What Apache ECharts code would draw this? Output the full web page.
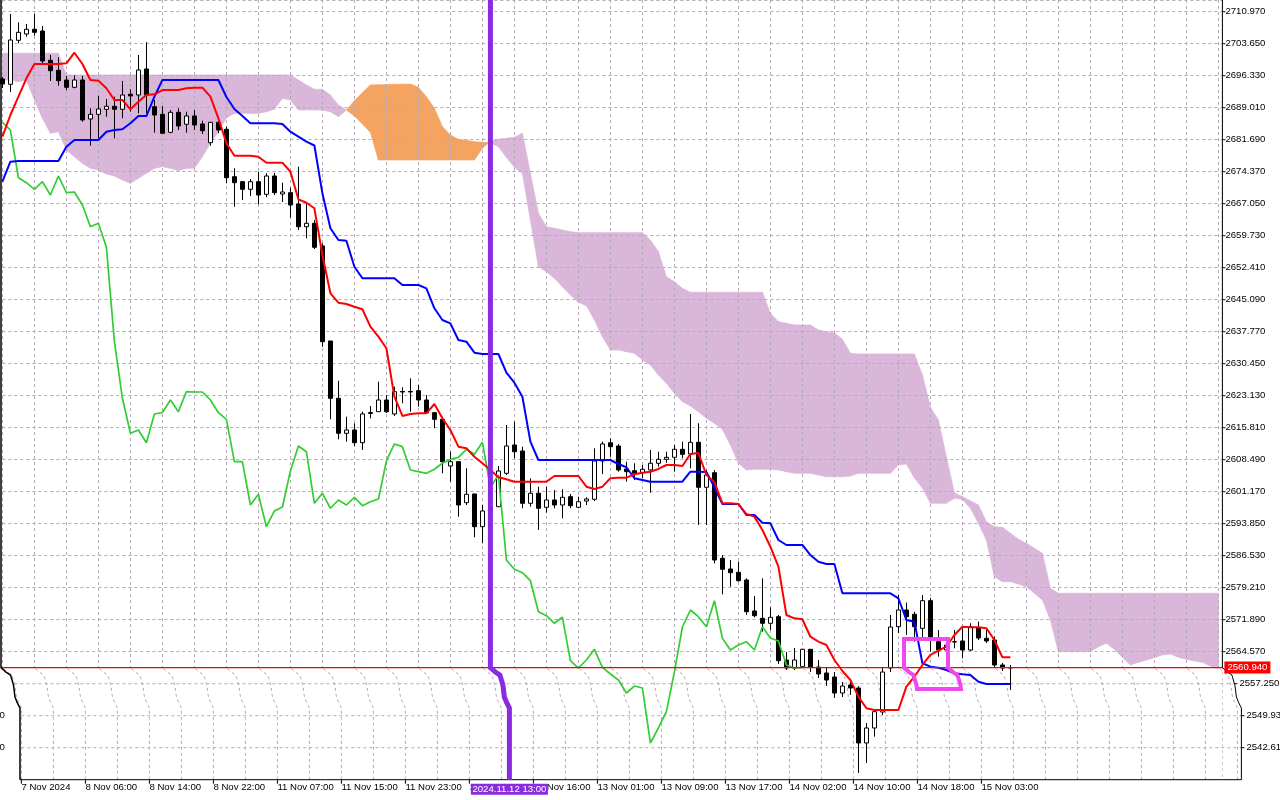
<!DOCTYPE html>
<html><head><meta charset="utf-8">
<script src="https://cdn.jsdelivr.net/npm/echarts@6/dist/echarts.min.js"></script>
<style>html,body{margin:0;padding:0;background:#fff;overflow:hidden}#c{width:1280px;height:800px}</style>
</head><body><div id="c"></div>
<script>
// ---------------- DATA (H1 bars, index 0 = 7 Nov 2024 ...) ----------------
const timeTickIdx = [0,8,16,24,32,40,48,56,64,72,80,88,96,104,112,120];
const timeTickText = ['7 Nov 2024','8 Nov 06:00','8 Nov 14:00','8 Nov 22:00','11 Nov 07:00','11 Nov 15:00','11 Nov 23:00','12 Nov 08:00','12 Nov 16:00','13 Nov 01:00','13 Nov 09:00','13 Nov 17:00','14 Nov 02:00','14 Nov 10:00','14 Nov 18:00','15 Nov 03:00'];
const priceLabels = [2710.97,2703.65,2696.33,2689.01,2681.69,2674.37,2667.05,2659.73,2652.41,2645.09,2637.77,2630.45,2623.13,2615.81,2608.49,2601.17,2593.85,2586.53,2579.21,2571.89,2564.57,2557.25,2549.93,2542.61];

const open = [2695.58,2694.37,2704.43,2705.87,2706.95,2706.56,2699.86,2697.57,2695.35,2693.68,
 2695.35,2686.43,2687.50,2688.65,2689.33,2688.65,2692.08,2691.92,2697.87,2689.24,
 2687.50,2683.39,2687.96,2685.22,2687.12,2685.29,2681.01,2685.67,2684.07,2673.23,
 2672.09,2670.35,2672.09,2669.20,2673.39,2669.27,2669.57,2666.98,2661.79,2662.57,
 2657.38,2635.65,2622.54,2614.53,2615.29,2612.38,2619.06,2619.47,2622.15,2618.95,
 2624.09,2624.09,2624.28,2622.15,2619.24,2617.73,2607.05,2608.04,2598.66,2600.65,
 2593.17,2596.76,2597.74,2605.38,2611.86,2610.48,2598.52,2600.81,2597.60,2599.27,
 2598.13,2600.03,2597.60,2599.04,2599.43,2608.20,2612.38,2611.63,2606.37,2605.98,
 2605.52,2606.14,2607.67,2608.59,2609.04,2610.87,2609.80,2612.47,2602.18,2605.52,
 2585.94,2583.49,2582.73,2580.97,2573.88,2572.21,2571.07,2572.58,2562.67,2560.84,
 2561.14,2565.12,2561.07,2559.70,2558.78,2555.12,2556.95,2556.27,2543.69,2547.12,
 2550.78,2560.84,2570.29,2574.11,2573.13,2569.92,2576.24,2566.86,2564.96,2566.79,
 2567.02,2564.96,2570.00,2567.64,2567.25,2561.53,2560.84];
const close = [2694.43,2704.50,2706.26,2706.95,2706.26,2699.70,2697.48,2695.19,2693.68,2695.35,
 2686.20,2687.50,2688.72,2689.33,2688.65,2691.92,2691.69,2697.64,2691.92,2687.34,
 2683.16,2687.96,2684.83,2687.12,2685.06,2683.75,2685.67,2683.91,2673.00,2671.86,
 2670.35,2672.09,2669.04,2673.39,2669.57,2669.73,2666.76,2661.79,2662.57,2657.08,
 2635.49,2622.54,2614.53,2615.29,2612.38,2618.95,2619.29,2622.15,2619.47,2624.05,
 2623.98,2623.98,2622.15,2619.24,2617.73,2608.04,2608.04,2598.13,2600.58,2593.17,
 2596.76,2597.67,2605.91,2611.63,2610.32,2598.52,2600.81,2597.38,2599.27,2598.13,
 2599.89,2597.97,2598.88,2599.50,2608.20,2612.09,2611.47,2606.14,2605.75,2605.38,
 2606.30,2607.67,2608.59,2609.04,2610.87,2609.73,2612.47,2602.18,2604.99,2585.55,
 2583.42,2582.64,2580.81,2573.72,2572.81,2571.07,2572.44,2562.52,2560.84,2562.67,
 2565.12,2561.00,2559.47,2558.10,2555.12,2556.72,2556.27,2543.69,2547.12,2550.85,
 2559.93,2570.22,2574.11,2572.58,2570.29,2576.24,2567.64,2564.96,2566.10,2566.86,
 2564.96,2570.29,2567.71,2567.02,2561.53,2560.84,2560.94];
const high = [2696.04,2710.45,2708.55,2708.16,2710.45,2707.70,2701.07,2700.54,2696.27,2696.43,
 2696.27,2688.88,2691.76,2691.00,2691.53,2695.12,2693.22,2701.07,2703.97,2690.78,
 2689.40,2688.49,2688.88,2688.10,2688.49,2686.04,2685.74,2685.97,2684.67,2675.15,
 2672.25,2672.70,2674.37,2674.01,2674.08,2671.86,2670.71,2675.52,2666.98,2663.33,
 2657.99,2635.65,2626.56,2618.33,2616.82,2619.47,2620.78,2626.33,2623.29,2625.19,
 2625.05,2627.11,2625.58,2623.29,2619.40,2618.33,2610.32,2608.20,2606.53,2600.65,
 2598.13,2599.96,2607.05,2616.43,2617.19,2611.47,2604.24,2602.32,2602.32,2601.56,
 2601.72,2600.65,2600.03,2599.89,2611.10,2612.61,2613.39,2612.09,2608.04,2607.67,
 2607.28,2610.71,2610.32,2610.32,2611.86,2612.61,2618.95,2616.82,2606.14,2606.14,
 2586.69,2585.55,2585.16,2581.36,2577.31,2581.36,2574.73,2572.97,2564.50,2565.42,
 2565.19,2565.19,2562.67,2560.84,2559.93,2557.64,2558.10,2556.72,2548.27,2551.24,
 2560.84,2572.97,2577.54,2575.78,2573.72,2577.54,2576.85,2569.54,2567.25,2569.54,
 2569.93,2571.07,2571.44,2569.54,2568.00,2561.99,2561.53];
const low = [2693.52,2692.60,2703.74,2705.26,2705.48,2699.24,2695.12,2694.05,2693.06,2693.45,
 2685.81,2680.32,2682.01,2686.95,2682.01,2686.59,2688.10,2687.73,2687.80,2683.29,
 2683.00,2683.16,2683.91,2683.29,2683.91,2683.00,2680.32,2683.16,2671.72,2666.37,
 2667.90,2668.81,2666.92,2668.52,2669.04,2667.44,2663.85,2661.04,2659.14,2656.69,
 2634.34,2617.73,2613.16,2612.61,2611.63,2610.71,2617.96,2619.47,2619.18,2618.49,
 2621.39,2619.47,2620.62,2619.11,2615.67,2605.38,2603.46,2595.45,2598.13,2590.74,
 2589.37,2595.38,2597.67,2604.99,2608.81,2597.38,2597.74,2592.41,2596.37,2597.38,
 2595.09,2597.38,2597.38,2598.13,2599.04,2605.22,2609.18,2605.75,2603.46,2603.85,
 2604.24,2600.94,2606.89,2607.81,2605.75,2608.81,2606.53,2593.55,2593.55,2584.79,
 2577.70,2579.44,2580.58,2572.97,2572.42,2569.15,2569.54,2561.76,2560.38,2560.38,
 2560.84,2559.93,2558.56,2556.72,2553.98,2554.21,2554.67,2536.83,2539.11,2545.13,
 2550.09,2559.93,2568.85,2568.39,2566.86,2567.64,2564.57,2563.43,2563.82,2565.35,
 2563.06,2564.73,2567.25,2566.56,2560.84,2560.16,2555.81];
const tenkan = [2682.38,2687.34,2691.53,2695.74,2699.01,2699.01,2699.01,2699.01,2699.17,2701.59,
 2699.01,2695.35,2695.19,2693.45,2690.77,2690.77,2688.65,2690.39,2691.92,2692.08,
 2693.06,2693.06,2693.06,2693.45,2693.59,2693.59,2691.53,2686.59,2680.87,2678.03,
 2678.03,2678.03,2677.80,2676.43,2676.43,2676.43,2674.37,2668.06,2667.28,2666.00,
 2655.32,2646.56,2644.41,2644.11,2643.49,2642.90,2638.92,2636.63,2633.98,2622.90,
 2618.49,2618.95,2619.11,2619.11,2621.23,2617.96,2615.29,2611.47,2611.10,2609.18,
 2607.67,2606.14,2604.47,2604.01,2603.46,2603.46,2603.46,2603.46,2603.46,2604.76,
 2604.76,2604.76,2604.76,2602.32,2601.79,2602.32,2604.24,2604.38,2604.38,2605.15,
 2605.52,2605.75,2606.37,2607.28,2607.28,2607.05,2609.80,2610.03,2604.99,2603.39,
 2598.52,2598.52,2598.36,2596.07,2595.46,2592.41,2588.59,2584.02,2572.97,2572.21,
 2571.99,2568.00,2566.86,2566.11,2562.67,2560.16,2558.10,2554.28,2551.63,2551.24,
 2551.24,2551.24,2551.24,2556.57,2558.85,2561.53,2563.82,2564.80,2565.72,2568.39,
 2570.29,2570.15,2570.15,2569.93,2567.25,2563.29,2563.29];
const kijun = [2672.09,2676.66,2676.82,2676.82,2676.82,2676.82,2676.82,2676.82,2680.09,2681.62,
 2681.62,2681.62,2681.62,2683.52,2683.91,2684.07,2685.44,2687.11,2687.11,2691.53,
 2695.35,2695.35,2695.35,2695.35,2695.35,2695.35,2695.35,2695.35,2691.46,2688.72,
 2687.11,2685.44,2685.44,2685.44,2685.44,2685.28,2683.52,2682.38,2681.24,2680.37,
 2669.43,2661.43,2658.75,2658.59,2652.64,2649.99,2649.99,2649.99,2649.99,2649.99,
 2648.46,2648.46,2648.46,2647.70,2643.13,2640.45,2639.69,2635.87,2635.49,2632.97,
 2632.67,2632.67,2632.67,2628.40,2626.11,2622.90,2612.61,2608.42,2608.42,2608.42,
 2608.42,2608.42,2608.42,2608.42,2608.42,2608.42,2608.42,2607.51,2606.76,2604.24,
 2603.85,2603.46,2603.46,2603.46,2603.46,2603.46,2605.75,2605.75,2605.68,2602.25,
 2598.36,2598.36,2598.36,2595.84,2595.84,2594.08,2593.94,2590.12,2588.98,2588.98,
 2588.98,2586.69,2585.16,2584.63,2584.63,2577.93,2577.93,2577.93,2577.93,2577.93,
 2577.93,2577.93,2576.79,2571.82,2571.44,2561.92,2561.14,2560.91,2560.39,2559.63,
 2559.40,2559.24,2557.71,2557.18,2557.18,2557.18,2557.18];
// Senkou spans, already displaced 26 bars forward (index 0..152)
const senkouA = [2695.35,2695.35,2694.96,2695.35,2690.77,2686.59,2683.16,2683.52,2679.34,2677.80,
 2676.30,2675.15,2674.76,2673.85,2673.39,2672.47,2671.72,2672.86,2674.01,2675.15,
 2675.52,2675.15,2674.60,2675.15,2675.15,2677.80,2680.87,2683.52,2686.66,2687.73,
 2687.73,2687.73,2687.73,2688.10,2688.65,2691.16,2690.77,2688.49,2688.49,2688.49,
 2688.49,2688.10,2686.95,2688.49,2690.61,2692.44,2694.21,2694.27,2694.27,2694.37,
 2694.37,2694.43,2693.68,2691.53,2688.88,2684.67,2682.77,2681.79,2681.56,2681.24,
 2681.10,2681.01,2680.09,2677.67,2675.38,2674.01,2663.33,2652.64,2651.50,2649.99,
 2648.07,2646.17,2644.50,2643.72,2640.45,2636.63,2633.59,2633.59,2633.20,2632.83,
 2631.30,2630.16,2627.87,2625.97,2623.68,2621.76,2620.78,2619.47,2617.96,2616.82,
 2615.45,2611.86,2607.67,2606.14,2606.30,2606.30,2606.30,2606.14,2605.75,2605.38,
 2605.38,2605.38,2604.99,2604.60,2604.60,2604.60,2604.76,2605.38,2605.38,2605.38,
 2605.38,2605.38,2607.28,2607.51,2604.31,2602.02,2598.52,2598.52,2598.52,2599.66,
 2599.44,2597.38,2593.94,2590.12,2581.73,2580.59,2580.59,2580.06,2579.44,2577.93,
 2576.40,2571.82,2564.57,2564.57,2564.57,2564.57,2564.57,2565.72,2566.50,2565.12,
 2563.29,2561.53,2562.15,2562.67,2563.20,2563.82,2564.05,2563.29,2562.84,2562.45,
 2562.15,2561.30,2560.39];
const senkouB = [2701.46,2701.46,2701.46,2701.46,2701.46,2701.46,2701.46,2701.46,2696.49,2696.49,
 2696.49,2696.49,2696.49,2696.49,2696.49,2696.49,2696.49,2696.49,2696.49,2696.49,
 2696.49,2696.49,2696.49,2696.49,2696.49,2696.49,2696.49,2696.49,2696.49,2696.49,
 2696.49,2696.49,2696.49,2696.49,2696.49,2696.49,2696.49,2695.35,2694.21,2693.22,
 2693.22,2691.92,2689.63,2688.49,2687.11,2685.28,2683.39,2677.05,2677.05,2677.05,
 2677.05,2677.05,2677.05,2677.05,2677.05,2677.05,2677.05,2677.05,2677.05,2677.05,
 2679.73,2681.40,2681.79,2682.01,2682.24,2683.16,2674.01,2664.86,2661.79,2661.43,
 2661.04,2660.65,2660.42,2660.42,2660.42,2660.42,2660.42,2660.42,2660.42,2660.42,
 2660.42,2658.75,2656.07,2650.35,2649.21,2647.70,2646.79,2646.79,2646.79,2646.79,
 2646.79,2646.79,2646.79,2646.79,2646.79,2646.79,2641.98,2640.06,2639.69,2639.31,
 2639.31,2639.31,2638.16,2637.77,2637.54,2636.03,2632.83,2632.67,2632.67,2632.67,
 2632.67,2632.67,2632.67,2632.67,2632.67,2627.87,2620.48,2617.57,2609.11,2600.88,
 2600.03,2599.11,2598.13,2594.31,2593.17,2593.03,2591.66,2590.28,2589.37,2588.23,
 2587.08,2579.08,2577.93,2577.93,2577.93,2577.93,2577.93,2577.93,2577.93,2577.93,
 2577.93,2577.93,2577.93,2577.93,2577.93,2577.93,2577.93,2577.93,2577.93,2577.93,
 2577.93,2577.93,2577.93];
const chikouShift = 26;
const separatorBar = 61;                    // period separator 2024.11.12 13:00
const separatorText = '2024.11.12 13:00';
const boxObject = {t0: 112.7, t1: 118.2, p0: 2567.48, p1: 2556.04}; // user rectangle
// ---------------------------------------------------------------------------

const GRID = '#b6aab6', THISTLE = '#dab6da', ORANGE = '#f4a460', PURPLE = '#8a2be2';
const FONT = "'Liberation Sans', Arial, sans-serif";
const yMin = 2535.29, yMax = 2713.65, yStep = 7.32;
const xMax = 152.5;
const lastPrice = close[close.length - 1];

const candleData = open.map((o, i) => [i, o, close[i], low[i], high[i]]);
const tenkanData = tenkan.map((v, i) => [i, v]);
const kijunData = kijun.map((v, i) => [i, v]);
const chikouData = close.slice(chikouShift).map((v, k) => [k, v]);
const cloudData = senkouA.slice(0, -1).map((a, i) => [i, a, senkouB[i], senkouA[i + 1], senkouB[i + 1]]);

function renderCloud(params, api) {
  const i = api.value(0), a0 = api.value(1), b0 = api.value(2), a1 = api.value(3), b1 = api.value(4);
  const d0 = a0 - b0, d1 = a1 - b1;
  const col = d => d > 0 ? ORANGE : THISTLE;
  const P = (x, y) => api.coord([x, y]);
  const polys = [];
  if (d0 * d1 < 0) {
    const t = d0 / (d0 - d1);
    const xc = i + t, yc = a0 + t * (a1 - a0);
    polys.push({pts: [P(i, a0), P(xc, yc), P(i, b0)], c: col(d0)});
    polys.push({pts: [P(xc, yc), P(i + 1, a1), P(i + 1, b1)], c: col(d1)});
  } else {
    polys.push({pts: [P(i, a0), P(i + 1, a1), P(i + 1, b1), P(i, b0)], c: col(d0 !== 0 ? d0 : d1)});
  }
  return {type: 'group', children: polys.map(p => ({type: 'polygon', shape: {points: p.pts}, style: {fill: p.c, stroke: p.c, lineWidth: 0.7}}))};
}

const chart = echarts.init(document.getElementById('c'), null, {renderer: 'canvas'});
const lblStyle = {fontSize: 9.6, fontFamily: FONT, color: '#000'};
chart.setOption({
  backgroundColor: '#ffffff',
  animation: false,
  grid: {left: 2.4, right: 57.6, top: 0, bottom: 20.3, containLabel: false, outerBoundsMode: 'none'},
  xAxis: {
    type: 'value', min: 0, max: xMax, interval: 4,
    axisLine: {show: false}, axisTick: {show: false},
    splitLine: {show: true, lineStyle: {color: GRID, type: [3, 3], width: 1}},
    axisLabel: {
      show: true, margin: 3, align: 'left', showMaxLabel: false, ...lblStyle,
      formatter: v => { const k = timeTickIdx.indexOf(Math.round(v)); return (k < 0 || Math.abs(v - Math.round(v)) > 1e-6) ? '' : '{p|' + timeTickText[k] + '}'; },
      rich: {p: {padding: [0, 0, 0, 19], ...lblStyle}}
    }
  },
  yAxis: {
    type: 'value', position: 'right', min: yMin, max: yMax, interval: yStep, scale: true,
    axisLine: {show: false}, axisTick: {show: false},
    splitLine: {show: true, lineStyle: {color: GRID, type: [3, 3], width: 1}},
    axisLabel: {
      show: true, margin: 3, showMaxLabel: false, showMinLabel: false, ...lblStyle,
      formatter: v => {
        const lab = priceLabels.find(p => Math.abs(p - v) < 0.005);
        if (lab === undefined) return '';
        const s = lab.toFixed(3);
        return lab > 2560 ? '{a|' + s + '}' : (lab > 2555 ? '{b|' + s + '}' : '{c|' + s + '}');
      },
      rich: {a: {...lblStyle}, b: {padding: [0, 0, 0, 14], ...lblStyle}, c: {padding: [0, 0, 0, 21], ...lblStyle}}
    }
  },
  series: [
    {type: 'custom', name: 'cloud', renderItem: renderCloud, data: cloudData, z: -1, silent: true,
     encode: {x: 0, y: [1, 2, 3, 4]}},
    {type: 'candlestick', name: 'price', data: candleData, barWidth: 5, z: 2, silent: true,
     encode: {x: 0, y: [1, 2, 3, 4]},
     itemStyle: {color: '#ffffff', color0: '#000000', borderColor: '#000000', borderColor0: '#000000', borderWidth: 1}},
    {type: 'line', name: 'chikou', data: chikouData, showSymbol: false, symbol: 'none', z: 3, silent: true,
     lineStyle: {color: '#32cd32', width: 1.7}},
    {type: 'line', name: 'kijun', data: kijunData, showSymbol: false, symbol: 'none', z: 3, silent: true,
     lineStyle: {color: '#0000ff', width: 2}},
    {type: 'line', name: 'tenkan', data: tenkanData, showSymbol: false, symbol: 'none', z: 4, silent: true,
     lineStyle: {color: '#ff0000', width: 2},
     markLine: {silent: true, symbol: 'none', animation: false,
       data: [{yAxis: lastPrice}],
       lineStyle: {color: '#ff0000', type: 'solid', width: 1.2, opacity: 1},
       label: {show: true, position: 'end', distance: 2, formatter: lastPrice.toFixed(3),
         backgroundColor: '#ff0000', color: '#ffffff', padding: [1, 3, 1, 3], fontSize: 9.6, fontFamily: FONT}}}
  ]
});

// ------------- decorations: borders, ticks, separator, warped lower strip -------------
const px = i => chart.convertToPixel({xAxisIndex: 0}, i);
const py = p => chart.convertToPixel({yAxisIndex: 0}, p);
const xL = px(0), xR = px(xMax), yB = py(yMin);
const stripTop = py(lastPrice);
const WARP = [[-1000, 0], [stripTop, 0], [stripTop + 4.5, 5], [stripTop + 7.5, 9.5], [stripTop + 17.5, 12.5], [stripTop + 29.5, 14], [stripTop + 34.5, 16], [stripTop + 40.5, 19], [2000, 19]];
function warp(y) {
  for (let k = 1; k < WARP.length; k++) {
    if (y <= WARP[k][0]) { const [y0, s0] = WARP[k - 1], [y1, s1] = WARP[k]; return s0 + (s1 - s0) * (y - y0) / (y1 - y0); }
  }
  return 19;
}
function warpedV(x, yt, yb) {
  const pts = [[x + warp(yt), yt]];
  WARP.forEach(([y]) => { if (y > yt && y < yb) pts.push([x + warp(y), y]); });
  pts.push([x + warp(yb), yb]);
  return pts;
}
const G = [];
const dash = {stroke: GRID, lineWidth: 1, lineDash: [3, 3], fill: null};
// white strip hiding the regular grid below the price line
G.push({type: 'rect', z: 1, z2: 0, silent: true, shape: {x: 0, y: stripTop + 0.8, width: xR, height: yB - stripTop + 2}, style: {fill: '#ffffff'}});
// shifted vertical grid lines in the strip
for (let v = 0; v <= 152; v += 4) {
  G.push({type: 'polyline', z: 1, z2: 1, silent: true, shape: {points: warpedV(px(v), stripTop + 1, yB)}, style: dash});
}
// horizontal grid lines in the strip
priceLabels.filter(p => py(p) > stripTop + 1).forEach(p => {
  const y = py(p), s = warp(y);
  G.push({type: 'line', z: 1, z2: 1, silent: true, shape: {x1: xL + s, y1: y, x2: xR + s, y2: y}, style: dash});
});
// current price line (kept above the strip)
G.push({type: 'line', z: 4, silent: true, shape: {x1: 1, y1: stripTop, x2: xR, y2: stripTop}, style: {stroke: '#ff0000', lineWidth: 1.2}});
// frame
const frame = {stroke: '#000', lineWidth: 1, fill: null};
G.push({type: 'polyline', z: 5, silent: true, shape: {points: [[1, 0]].concat(warpedV(1, stripTop, yB))}, style: {stroke: '#000', lineWidth: 1.5, fill: null}});
G.push({type: 'polyline', z: 5, silent: true, shape: {points: [[xR, 0]].concat(warpedV(xR, stripTop, yB))}, style: frame});
G.push({type: 'line', z: 5, silent: true, shape: {x1: 1 + warp(yB), y1: yB, x2: xR + warp(yB), y2: yB}, style: frame});
// price ticks on the right scale
priceLabels.forEach(p => {
  const y = py(p), xb = xR + warp(y);
  G.push({type: 'line', z: 5, silent: true, shape: {x1: xb, y1: y, x2: xb + 3, y2: y}, style: frame});
});
// time ticks
timeTickIdx.forEach(i => {
  const x = px(i) + warp(yB);
  G.push({type: 'line', z: 5, silent: true, shape: {x1: x, y1: yB, x2: x, y2: yB + 4}, style: frame});
});
// remnants of the left scale
priceLabels.filter(p => py(p) > stripTop + 30).forEach(p => {
  G.push({type: 'text', z: 5, silent: true, x: -0.5, y: py(p), style: {text: '0', fill: '#000', font: '9.6px ' + FONT, verticalAlign: 'middle', align: 'left'}});
});
// period separator (vertical purple line) + its time label
const sx = px(separatorBar);
G.push({type: 'polyline', z: 6, silent: true, shape: {points: [[sx, 0]].concat(warpedV(sx, stripTop, yB))}, style: {stroke: PURPLE, lineWidth: 5, fill: null}});
const lx = sx + warp(yB);
G.push({type: 'rect', z: 10, silent: true, shape: {x: lx - 38.5, y: yB + 4, width: 77, height: 11}, style: {fill: PURPLE}});
G.push({type: 'text', z: 11, silent: true, x: lx, y: yB + 9.8, style: {text: separatorText, fill: '#fff', font: '9.6px ' + FONT, align: 'center', verticalAlign: 'middle'}});
// magenta user rectangle (warped where it crosses the strip)
const bx1 = px(boxObject.t0), bx2 = px(boxObject.t1), by1 = py(boxObject.p0), by2 = py(boxObject.p1);
const rightSide = warpedV(bx2, stripTop, by2);
const leftSide = warpedV(bx1, stripTop, by2).reverse();
G.push({type: 'polygon', z: 6, silent: true, shape: {points: [[bx1, by1], [bx2, by1]].concat(rightSide, leftSide)}, style: {stroke: '#f048f0', lineWidth: 4, fill: null, lineJoin: 'miter'}});
chart.setOption({graphic: {elements: G}});
</script>
</body></html>
